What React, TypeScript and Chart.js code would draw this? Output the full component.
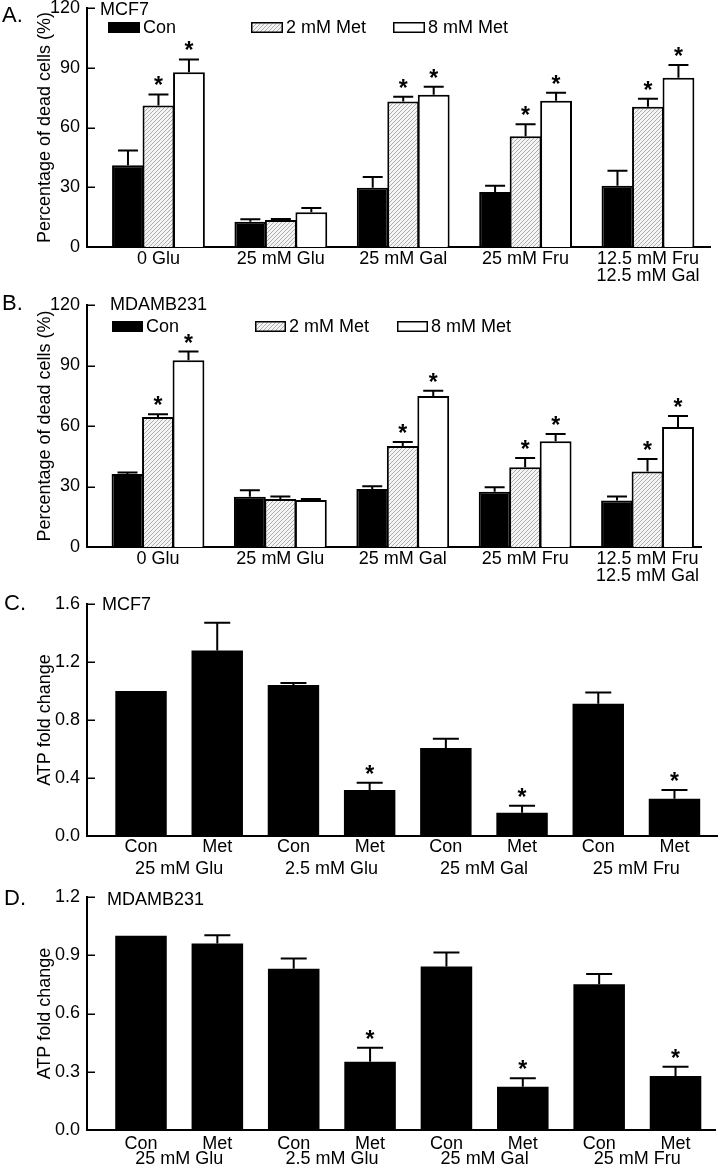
import React, { useEffect, useRef } from "react";
import { Chart, registerables } from "chart.js";

Chart.register(...registerables);

const FONT = "'Liberation Sans', Arial, Helvetica, sans-serif";
const FS = 18;

// ---------- Data: panels A & B (percentage of dead cells) ----------
const deathCategories: (string | string[])[] = [
  "0 Glu",
  "25 mM Glu",
  "25 mM Gal",
  "25 mM Fru",
  ["12.5 mM Fru", "12.5 mM Gal"],
];
const deathSeriesNames = ["Con", "2 mM Met", "8 mM Met"];
const deathTickValues = [0, 30, 60, 90, 120];
const deathTickLabels = ["0", "30", "60", "90", "120"];
const deathTitle = "Percentage of dead cells (%)";

const mcf7Con = [41, 12.7, 29.8, 27.6, 30.8];
const mcf7ConErr = [7.5, 1.2, 5.3, 3.2, 7.5];
const mcf7Met2 = [71.1, 13.5, 73.1, 55.6, 70.4];
const mcf7Met2Err = [5.5, 0.5, 2.3, 6.0, 4.0];
const mcf7Met8 = [87.7, 17.4, 76.5, 73.4, 85.0];
const mcf7Met8Err = [6.5, 2.2, 4.0, 4.0, 6.4];
const mcf7Met2Star = [true, false, true, true, true];
const mcf7Met8Star = [true, false, true, true, true];

const mdaCon = [36.2, 24.9, 28.8, 27.4, 23.0];
const mdaConErr = [0.7, 3.2, 1.3, 2.2, 2.0];
const mdaMet2 = [64.5, 23.8, 50.1, 39.5, 37.5];
const mdaMet2Err = [1.3, 1.3, 2.0, 4.6, 6.1];
const mdaMet8 = [92.6, 23.3, 74.9, 52.4, 59.5];
const mdaMet8Err = [4.3, 0.5, 2.6, 3.6, 5.4];
const mdaMet2Star = [true, false, true, true, true];
const mdaMet8Star = [true, false, true, true, true];
const noStars = [false, false, false, false, false];

// ---------- Data: panels C & D (ATP fold change) ----------
const atpBarLabels = ["Con", "Met", "Con", "Met", "Con", "Met", "Con", "Met"];
const atpGroups = ["25 mM Glu", "2.5 mM Glu", "25 mM Gal", "25 mM Fru"];
const atpGroupPositions = [0.5, 2.5, 4.5, 6.5];
const atpTitle = "ATP fold change";

const mcf7Atp = [1.0, 1.28, 1.041, 0.317, 0.607, 0.161, 0.912, 0.257];
const mcf7AtpErr = [0, 0.19, 0.014, 0.05, 0.064, 0.048, 0.078, 0.06];
const mcf7AtpStar = [false, false, false, true, false, true, false, true];
const mcf7AtpTickValues = [0, 0.4, 0.8, 1.2, 1.6];
const mcf7AtpTickLabels = ["0.0", "0.4", "0.8", "1.2", "1.6"];

const mdaAtp = [1.0, 0.961, 0.831, 0.352, 0.842, 0.223, 0.751, 0.278];
const mdaAtpErr = [0, 0.042, 0.052, 0.072, 0.072, 0.043, 0.053, 0.048];
const mdaAtpStar = [false, false, false, true, false, true, false, true];
const mdaAtpTickValues = [0, 0.3, 0.6, 0.9, 1.2];
const mdaAtpTickLabels = ["0.0", "0.3", "0.6", "0.9", "1.2"];

// ---------- Layout specs ----------
type Spec = {
  top: number;
  height: number;
  areaTop: number;
  areaRight: number;
  x1Height: number;
  x1Pad: number;
  x2Height: number;
  xMin: number;
  xMax: number;
  letter: string;
  letterX: number;
  letterY: number;
  cell: string;
  cellX: number;
  cellY: number;
  capW: number;
  legend?: { boxX: number[]; boxY: number; boxW: number; boxH: number };
};

const specA: Spec = {
  top: 0, height: 290, areaTop: 8, areaRight: 710, x1Height: 43, x1Pad: 3, x2Height: 0,
  xMin: -0.584, xMax: 4.507, letter: "A.", letterX: 2, letterY: 22, cell: "MCF7", cellX: 100, cellY: 15,
  capW: 20, legend: { boxX: [108, 251, 393], boxY: 22, boxW: 32, boxH: 11 },
};
const specB: Spec = {
  top: 290, height: 295, areaTop: 15, areaRight: 701, x1Height: 38, x1Pad: 3, x2Height: 0,
  xMin: -0.58, xMax: 4.437, letter: "B.", letterX: 2, letterY: 20, cell: "MDAMB231", cellX: 110, cellY: 20,
  capW: 20, legend: { boxX: [112, 255, 397], boxY: 31, boxW: 31, boxH: 11 },
};
const specC: Spec = {
  top: 585, height: 295, areaTop: 19, areaRight: 717, x1Height: 24, x1Pad: 2, x2Height: 20,
  xMin: -0.709, xMax: 7.558, letter: "C.", letterX: 4, letterY: 25, cell: "MCF7", cellX: 102, cellY: 25,
  capW: 26,
};
const specD: Spec = {
  top: 880, height: 286, areaTop: 17, areaRight: 715, x1Height: 20, x1Pad: 5, x2Height: 16,
  xMin: -0.707, xMax: 7.517, letter: "D.", letterX: 4, letterY: 25, cell: "MDAMB231", cellX: 107, cellY: 25,
  capW: 26,
};

// ---------- Helpers ----------
function makeHatch(): CanvasPattern | string {
  const c = document.createElement("canvas");
  c.width = 4;
  c.height = 4;
  const g = c.getContext("2d");
  if (!g) return "#dcdcdc";
  g.fillStyle = "#f4f4f4";
  g.fillRect(0, 0, 4, 4);
  g.strokeStyle = "#a6a6a6";
  g.lineWidth = 0.9;
  g.beginPath();
  g.moveTo(0, 4);
  g.lineTo(4, 0);
  g.moveTo(-1, 1);
  g.lineTo(1, -1);
  g.moveTo(3, 5);
  g.lineTo(5, 3);
  g.stroke();
  const p = g.createPattern(c, "repeat");
  return p || "#dcdcdc";
}

const errorBarPlugin = {
  id: "errorBarsStars",
  afterDatasetsDraw(chart: any) {
    const ctx = chart.ctx as CanvasRenderingContext2D;
    const y = chart.scales.y;
    const capW = chart.options.plugins.errorBarsStars?.capW ?? 20;
    ctx.save();
    ctx.strokeStyle = "#000";
    ctx.fillStyle = "#000";
    ctx.lineWidth = 2;
    chart.data.datasets.forEach((ds: any, di: number) => {
      const meta = chart.getDatasetMeta(di);
      meta.data.forEach((el: any, i: number) => {
        const v = ds.data[i].y;
        const e = ds.errors ? ds.errors[i] : 0;
        const topPx = y.getPixelForValue(v + e);
        if (e > 0) {
          ctx.beginPath();
          ctx.moveTo(el.x, el.y);
          ctx.lineTo(el.x, topPx);
          ctx.moveTo(el.x - capW / 2, topPx);
          ctx.lineTo(el.x + capW / 2, topPx);
          ctx.stroke();
        }
        if (ds.stars && ds.stars[i]) {
          ctx.font = `bold 23px ${FONT}`;
          ctx.textAlign = "center";
          ctx.textBaseline = "alphabetic";
          ctx.fillText("*", el.x, topPx - 1);
        }
      });
    });
    ctx.restore();
  },
};

function decorPlugin(spec: Spec) {
  return {
    id: "decor",
    afterDraw(chart: any) {
      const ctx = chart.ctx as CanvasRenderingContext2D;
      const y = chart.scales.y;
      const area = chart.chartArea;
      ctx.save();
      // inward tick marks
      ctx.strokeStyle = "#000";
      ctx.lineWidth = 1.5;
      y.ticks.forEach((t: any) => {
        if (t.value === 0) return;
        const py = Math.round(y.getPixelForValue(t.value)) + 0.25;
        ctx.beginPath();
        ctx.moveTo(area.left, py);
        ctx.lineTo(area.left + 8, py);
        ctx.stroke();
      });
      // panel letter and cell line
      ctx.fillStyle = "#000";
      ctx.textAlign = "left";
      ctx.textBaseline = "alphabetic";
      ctx.font = `22px ${FONT}`;
      ctx.fillText(spec.letter, spec.letterX, spec.letterY);
      ctx.font = `${FS}px ${FONT}`;
      ctx.fillText(spec.cell, spec.cellX, spec.cellY);
      // legend
      if (spec.legend) {
        const L = spec.legend;
        chart.data.datasets.forEach((ds: any, i: number) => {
          const bx = L.boxX[i];
          ctx.fillStyle = ds.backgroundColor;
          ctx.fillRect(bx, L.boxY, L.boxW, L.boxH);
          ctx.strokeStyle = "#000";
          ctx.lineWidth = 1.5;
          ctx.strokeRect(bx + 0.75, L.boxY + 0.75, L.boxW - 1.5, L.boxH - 1.5);
          ctx.fillStyle = "#000";
          ctx.font = `${FS}px ${FONT}`;
          ctx.textBaseline = "middle";
          ctx.fillText(ds.label, bx + L.boxW + 3, L.boxY + L.boxH / 2 + 0.5);
        });
      }
      ctx.restore();
    },
  };
}

function xScale(spec: Spec, positions: number[], labels: any[], weight: number, height: number, pad: number, border: boolean) {
  return {
    type: "linear",
    position: "bottom",
    weight,
    min: spec.xMin,
    max: spec.xMax,
    offset: false,
    bounds: "data",
    grid: { display: false, drawTicks: false },
    border: { display: border, color: "#000", width: 2 },
    ticks: {
      autoSkip: false,
      maxRotation: 0,
      minRotation: 0,
      padding: pad,
      color: "#000",
      font: { family: FONT, size: FS, lineHeight: 0.95 },
      callback: (_v: any, i: number) => labels[i],
    },
    afterBuildTicks: (s: any) => {
      s.ticks = positions.map((v) => ({ value: v }));
    },
    afterFit: (s: any) => {
      s.height = height;
      s.paddingLeft = 0;
      s.paddingRight = 0;
    },
  };
}

function yScale(max: number, tickValues: number[], tickLabels: string[], title: string) {
  return {
    type: "linear",
    position: "left",
    min: 0,
    max,
    grid: { display: false, drawTicks: false },
    border: { display: true, color: "#000", width: 2 },
    ticks: {
      padding: 7,
      color: "#000",
      font: { family: FONT, size: FS, lineHeight: 1 },
      callback: (_v: any, i: number) => tickLabels[i],
    },
    afterBuildTicks: (s: any) => {
      s.ticks = tickValues.map((v) => ({ value: v }));
    },
    title: {
      display: true,
      text: title,
      color: "#000",
      font: { family: FONT, size: FS, lineHeight: 1 },
      padding: { top: 36, bottom: 0 },
    },
    afterFit: (s: any) => {
      s.width = 87;
      s.paddingTop = 0;
      s.paddingBottom = 0;
    },
  };
}

const pts = (arr: number[]) => arr.map((v, i) => ({ x: i, y: v }));

function deathConfig(
  spec: Spec,
  con: number[], conErr: number[],
  m2: number[], m2Err: number[], m2Star: boolean[],
  m8: number[], m8Err: number[], m8Star: boolean[],
) {
  const hatch = makeHatch();
  const positions = deathCategories.map((_c, i) => i);
  return {
    type: "bar",
    data: {
      datasets: [
        { label: deathSeriesNames[0], data: pts(con), errors: conErr, stars: noStars, backgroundColor: "#000", borderColor: "#000", borderWidth: 2 },
        { label: deathSeriesNames[1], data: pts(m2), errors: m2Err, stars: m2Star, backgroundColor: hatch, borderColor: "#000", borderWidth: 2 },
        { label: deathSeriesNames[2], data: pts(m8), errors: m8Err, stars: m8Star, backgroundColor: "#fff", borderColor: "#000", borderWidth: 2 },
      ],
    },
    options: {
      animation: false,
      responsive: false,
      devicePixelRatio: 1,
      events: [],
      layout: { padding: { top: spec.areaTop, right: 720 - spec.areaRight, left: 0, bottom: 0 } },
      datasets: { bar: { categoryPercentage: 0.7475, barPercentage: 1.044 } },
      plugins: { legend: { display: false }, tooltip: { enabled: false }, errorBarsStars: { capW: spec.capW } },
      scales: {
        x: xScale(spec, positions, deathCategories, 0, spec.x1Height, spec.x1Pad, true),
        y: yScale(120, deathTickValues, deathTickLabels, deathTitle),
      },
    },
    plugins: [errorBarPlugin, decorPlugin(spec)],
  };
}

function atpConfig(spec: Spec, vals: number[], errs: number[], stars: boolean[], max: number, tv: number[], tl: string[]) {
  const positions = atpBarLabels.map((_c, i) => i);
  return {
    type: "bar",
    data: {
      datasets: [
        { label: "ATP", data: pts(vals), errors: errs, stars, backgroundColor: "#000", borderColor: "#000", borderWidth: 0 },
      ],
    },
    options: {
      animation: false,
      responsive: false,
      devicePixelRatio: 1,
      events: [],
      layout: { padding: { top: spec.areaTop, right: 720 - spec.areaRight, left: 0, bottom: 0 } },
      datasets: { bar: { categoryPercentage: 0.675, barPercentage: 1 } },
      plugins: { legend: { display: false }, tooltip: { enabled: false }, errorBarsStars: { capW: spec.capW } },
      scales: {
        x: xScale(spec, positions, atpBarLabels, 0, spec.x1Height, spec.x1Pad, true),
        x2: xScale(spec, atpGroupPositions, atpGroups, 1, spec.x2Height, 0, false),
        y: yScale(max, tv, tl, atpTitle),
      },
    },
    plugins: [errorBarPlugin, decorPlugin(spec)],
  };
}

function Panel({ spec, build }: { spec: Spec; build: () => any }) {
  const ref = useRef<HTMLCanvasElement | null>(null);
  useEffect(() => {
    if (!ref.current) return;
    const chart = new Chart(ref.current, build());
    return () => chart.destroy();
  }, []);
  return (
    <canvas
      ref={ref}
      width={720}
      height={spec.height}
      style={{ position: "absolute", left: 0, top: spec.top, width: 720, height: spec.height, display: "block" }}
    />
  );
}

export default function App() {
  return (
    <div style={{ position: "absolute", left: 0, top: 0, width: 720, height: 1166, background: "#fff", overflow: "hidden" }}>
      <Panel
        spec={specA}
        build={() => deathConfig(specA, mcf7Con, mcf7ConErr, mcf7Met2, mcf7Met2Err, mcf7Met2Star, mcf7Met8, mcf7Met8Err, mcf7Met8Star)}
      />
      <Panel
        spec={specB}
        build={() => deathConfig(specB, mdaCon, mdaConErr, mdaMet2, mdaMet2Err, mdaMet2Star, mdaMet8, mdaMet8Err, mdaMet8Star)}
      />
      <Panel
        spec={specC}
        build={() => atpConfig(specC, mcf7Atp, mcf7AtpErr, mcf7AtpStar, 1.6, mcf7AtpTickValues, mcf7AtpTickLabels)}
      />
      <Panel
        spec={specD}
        build={() => atpConfig(specD, mdaAtp, mdaAtpErr, mdaAtpStar, 1.2, mdaAtpTickValues, mdaAtpTickLabels)}
      />
    </div>
  );
}
